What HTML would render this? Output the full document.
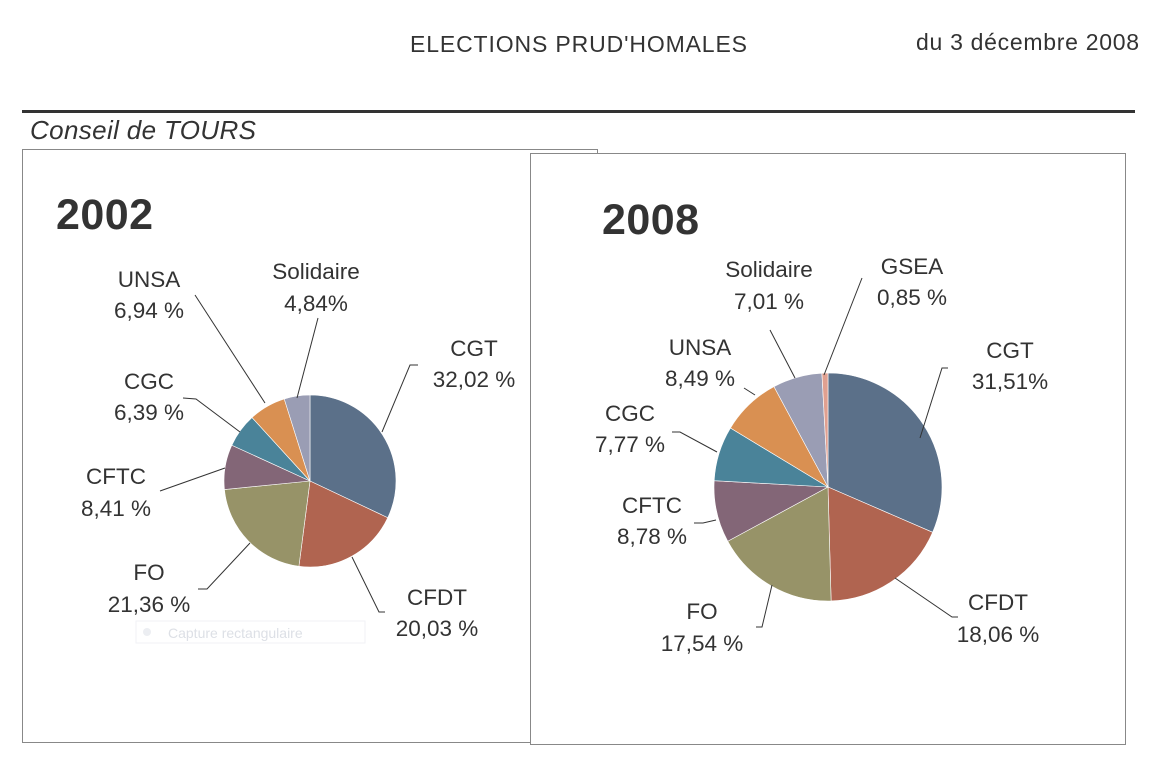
<!DOCTYPE html>
<html><head><meta charset="utf-8"><style>
body{margin:0;background:#fff;width:1157px;height:766px;overflow:hidden;font-family:"Liberation Sans",sans-serif;}
svg text{font-family:"Liberation Sans",sans-serif;fill:#333;}
</style></head><body>
<svg id="s" width="1157" height="766" xmlns="http://www.w3.org/2000/svg">
<text x="410" y="52" font-size="23" textLength="337" fill="#222">ELECTIONS PRUD'HOMALES</text>
<text x="916" y="50" font-size="23" textLength="223" fill="#222">du 3 décembre 2008</text>
<rect x="22" y="110" width="1113" height="3" fill="#333"/>
<text x="30" y="139" font-size="26" font-style="italic" textLength="226" fill="#222">Conseil de TOURS</text>
<rect x="22.5" y="149.5" width="575" height="593" fill="#fff" stroke="#888"/>
<rect x="530.5" y="153.5" width="595" height="591" fill="#fff" stroke="#888"/>
<text x="56" y="229" font-size="43" font-weight="bold" textLength="97">2002</text>
<text x="602" y="234" font-size="43" font-weight="bold" textLength="97">2008</text>
<rect x="136" y="621" width="229" height="22" fill="none" stroke="#f0f2f6"/>
<circle cx="147" cy="632" r="4" fill="#eceef2"/>
<text x="168" y="638" font-size="14" style="fill:#dde0e6">Capture rectangulaire</text>
<g id="p1"></g><g id="p2"></g>
<g stroke="#333" stroke-width="1" fill="none">
<polyline points="418,365 410,365 382,432"/>
<polyline points="318,318 297,398"/>
<polyline points="195,295 265,403"/>
<polyline points="183,398 196,399 240,432"/>
<polyline points="160,491 225,468"/>
<polyline points="198,589 207,589 250,543"/>
<polyline points="385,612 379,612 352,557"/>
<polyline points="862,278 824,375"/>
<polyline points="770,330 795,378"/>
<polyline points="744,388 755,395"/>
<polyline points="672,432 680,432 717,452"/>
<polyline points="694,523 703,523 716,520"/>
<polyline points="756,627 762,627 772,585"/>
<polyline points="958,617 952,617 895,578"/>
<polyline points="948,368 942,368 920,438"/>
</g>
<g font-size="22.5" text-anchor="middle">
<text x="474" y="356">CGT</text><text x="474" y="387">32,02 %</text>
<text x="316" y="279">Solidaire</text><text x="316" y="311">4,84%</text>
<text x="149" y="287">UNSA</text><text x="149" y="318">6,94 %</text>
<text x="149" y="389">CGC</text><text x="149" y="420">6,39 %</text>
<text x="116" y="484">CFTC</text><text x="116" y="516">8,41 %</text>
<text x="149" y="580">FO</text><text x="149" y="612">21,36 %</text>
<text x="437" y="605">CFDT</text><text x="437" y="636">20,03 %</text>
<text x="912" y="274">GSEA</text><text x="912" y="305">0,85 %</text>
<text x="769" y="277">Solidaire</text><text x="769" y="309">7,01 %</text>
<text x="700" y="355">UNSA</text><text x="700" y="386">8,49 %</text>
<text x="630" y="421">CGC</text><text x="630" y="452">7,77 %</text>
<text x="652" y="513">CFTC</text><text x="652" y="544">8,78 %</text>
<text x="702" y="619">FO</text><text x="702" y="651">17,54 %</text>
<text x="998" y="610">CFDT</text><text x="998" y="642">18,06 %</text>
<text x="1010" y="358">CGT</text><text x="1010" y="389">31,51%</text>
</g>
</svg>
<script>
function pie(id,cx,cy,r,vals,cols){
 var g=document.getElementById(id),tot=vals.reduce((a,b)=>a+b,0),a=0,h='';
 for(var i=0;i<vals.length;i++){
  var a2=a+vals[i]/tot*2*Math.PI;
  var x1=cx+r*Math.sin(a),y1=cy-r*Math.cos(a),x2=cx+r*Math.sin(a2),y2=cy-r*Math.cos(a2);
  h+='<path d="M'+cx+','+cy+' L'+x1+','+y1+' A'+r+','+r+' 0 '+((a2-a)>Math.PI?1:0)+' 1 '+x2+','+y2+' Z" fill="'+cols[i]+'" stroke="#fff" stroke-width="0.6"/>';
  a=a2;}
 g.innerHTML=h;}
var c=['#5b7089','#b06450','#979368','#836677','#4a8399','#d99052','#9a9db4','#e0a090'];
pie('p1',310,481,86,[32.02,20.03,21.36,8.41,6.39,6.94,4.84],c);
pie('p2',828,487,114,[31.51,18.06,17.54,8.78,7.77,8.49,7.01,0.85],c);
</script>
</body></html>
